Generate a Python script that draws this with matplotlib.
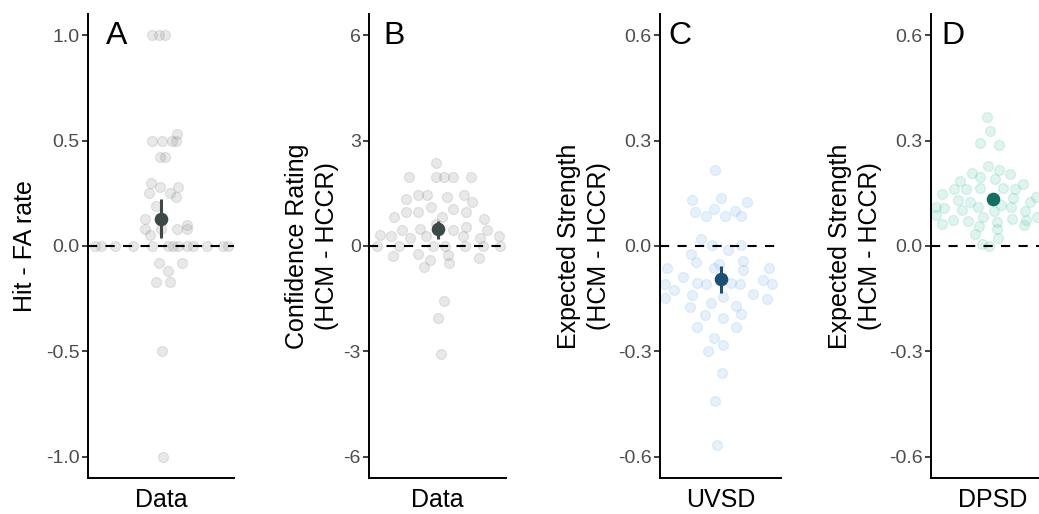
import numpy as np
import matplotlib.pyplot as plt

plt.rcParams['font.family'] = ['Liberation Sans', 'DejaVu Sans']
plt.rcParams['axes.unicode_minus'] = False

# Panel A: hit - false alarm rate difference per participant
a_vals = [1.0, 1.0, 1.0, 0.53, 0.5, 0.5, 0.5, 0.5, 0.42, 0.42,
          0.30, 0.28, 0.28, 0.25, 0.25, 0.23, 0.19, 0.13, 0.10, 0.08,
          0.08, 0.08, 0.08, 0.05,
          0.0, 0.0, 0.0, 0.0, 0.0, 0.0, 0.0, 0.0, 0.0, 0.0, 0.0, 0.0, 0.0,
          -0.08, -0.08, -0.12, -0.17, -0.17, -0.5, -1.0]
a_jit = [-0.07, -0.02, 0.03, 0.13, -0.07, 0.01, 0.09, 0.12, -0.01, 0.03,
         -0.08, -0.01, 0.14, -0.10, 0.07, 0.12, -0.04, -0.13, 0.21, 0.0,
         0.13, -0.13, 0.21, -0.09,
         -0.54, -0.49, -0.38, -0.23, -0.07, 0.06, 0.10, 0.14, 0.21, 0.26,
         0.38, 0.51, 0.55,
         -0.02, 0.17, 0.06, -0.04, 0.07, 0.01, 0.02]
a_mean, a_lo, a_hi = 0.13, 0.04, 0.225

# Panel B: confidence rating difference (HCM - HCCR)
b_vals = [2.35, 1.96, 1.96, 1.96, 1.96, 1.96, 1.35, 1.45, 1.45, 1.39,
          1.45, 1.25, 0.82, 0.97, 0.97, 1.11, 1.04, 0.97, 0.78, 0.83,
          0.63, 0.31, 0.28, 0.45, 0.22, 0.47, 0.28, 0.45, 0.55, 0.28,
          0.24, 0.45, 0.28,
          0.0, 0.0, 0.0, 0.0, 0.0, 0.0, 0.0,
          -0.28, -0.24, -0.41, -0.27, -0.47, -0.59, -0.33,
          -1.56, -2.06, -3.06]
b_jit = [-0.01, -0.25, -0.01, 0.06, 0.14, 0.29, -0.28, -0.17, -0.09, 0.08,
         0.23, 0.30, -0.38, -0.28, -0.17, -0.06, 0.14, 0.25, 0.41, 0.04,
         -0.01, -0.50, -0.41, -0.31, -0.24, -0.15, -0.10, 0.14, 0.25, 0.22,
         0.37, 0.43, 0.54,
         -0.53, -0.34, -0.04, 0.07, 0.24, 0.40, 0.55,
         -0.39, -0.17, -0.07, 0.09, 0.10, -0.12, 0.36,
         0.06, 0.0, 0.03]
b_mean, b_lo, b_hi = 0.47, 0.20, 0.70

# Panel C: expected strength difference under UVSD
c_vals = [0.215, 0.13, 0.137, 0.126, 0.098, 0.085, 0.104, 0.085, 0.10, 0.085,
          0.019, 0.002, -0.012, 0.002, -0.024, -0.045, -0.062, -0.052, -0.064, -0.043,
          -0.068, -0.064, -0.107, -0.088, -0.106, -0.109, -0.105, -0.109, -0.097, -0.107,
          -0.147, -0.126, -0.14, -0.144, -0.137, -0.152, -0.173, -0.163, -0.171, -0.197,
          -0.204, -0.194, -0.23, -0.23, -0.262, -0.283, -0.30, -0.36, -0.44, -0.566]
c_jit = [-0.05, -0.28, 0.0, 0.26, -0.25, -0.14, -0.06, 0.04, 0.14, 0.20,
         -0.19, -0.08, 0.07, 0.20, -0.29, -0.24, -0.53, -0.01, -0.06, 0.22,
         0.22, 0.48, -0.55, -0.37, -0.23, -0.14, 0.10, 0.19, 0.42, 0.51,
         -0.55, -0.46, -0.28, 0.02, 0.32, 0.46, -0.30, -0.09, 0.15, -0.15,
         0.02, 0.20, -0.23, 0.15, -0.06, 0.02, -0.12, 0.01, -0.05, -0.03]
c_mean, c_lo, c_hi = -0.095, -0.134, -0.057

# Panel D: expected strength difference under DPSD
d_vals = [0.367, 0.327, 0.294, 0.286, 0.229, 0.207, 0.197, 0.215, 0.204, 0.19,
          0.185, 0.175, 0.163, 0.163, 0.166, 0.166, 0.163, 0.149, 0.137, 0.13,
          0.125, 0.118, 0.111, 0.125, 0.111, 0.107, 0.102, 0.111, 0.10, 0.10,
          0.139, 0.088, 0.074, 0.071, 0.083, 0.069, 0.076, 0.074, 0.083, 0.064,
          0.057, 0.049, 0.06, 0.033, 0.024, 0.007, 0.0]
d_jit = [-0.06, -0.03, -0.13, 0.06, -0.05, -0.20, -0.13, 0.06, 0.16, 0.02,
         -0.32, 0.29, -0.38, -0.26, -0.13, 0.10, 0.21, -0.49, 0.19, -0.34,
         -0.22, 0.08, 0.17, 0.36, -0.55, -0.47, -0.30, -0.15, 0.01, 0.31,
         0.42, -0.55, -0.39, -0.24, -0.10, 0.04, 0.18, 0.32, 0.43, -0.49,
         -0.14, 0.04, 0.30, -0.17, 0.05, -0.11, -0.04]
d_mean, d_lo, d_hi = 0.133, 0.123, 0.143

W, H = 1039, 514
fig = plt.figure(figsize=(W / 100, H / 100), dpi=100)


def add_panel(x0, x1, letter, letter_x, ylabel, ylabel_x, xlabel,
              vals, jit, mean, lo, hi, pt_color, mean_color, lim, ticks, fmt):
    top, bottom = 14, 478
    ax = fig.add_axes([x0 / W, (H - bottom) / H, (x1 - x0) / W, (bottom - top) / H])
    ax.scatter(1 + np.asarray(jit), vals, s=52, color=pt_color, alpha=0.2,
               edgecolors=pt_color, linewidths=0.9, zorder=2)
    ax.axhline(0, color='black', lw=1.5, ls=(0, (4.4, 4.0)), zorder=3)
    ax.plot([1, 1], [lo, hi], color=mean_color, lw=2.2, zorder=4,
            solid_capstyle='butt')
    ax.plot(1, mean, 'o', ms=9.8, color=mean_color, mec='none', zorder=5)

    ax.set_xlim(0.4, 1.6)
    ax.set_ylim(-lim, lim)
    ax.set_yticks(ticks)
    ax.set_yticklabels([fmt.format(t) for t in ticks])
    ax.set_xticks([1])
    ax.set_xticklabels([xlabel])

    for side in ['top', 'right']:
        ax.spines[side].set_visible(False)
    for side in ['left', 'bottom']:
        ax.spines[side].set_linewidth(1.4)
        ax.spines[side].set_color('black')
    ax.tick_params(axis='y', length=4, width=1.3, color='#333333',
                   labelsize=14, labelcolor='#4d4d4d', pad=2)
    ax.tick_params(axis='x', length=0, labelsize=18, labelcolor='black', pad=7)

    ax.set_ylabel(ylabel, fontsize=18, va='center', ha='center', linespacing=1.35)
    ax.yaxis.set_label_coords((ylabel_x - x0) / (x1 - x0), 0.5)
    fig.text(letter_x / W, 1 - 36 / H, letter, fontsize=23, ha='left', va='center')
    return ax


add_panel(88, 234, 'A', 106, 'Hit - FA rate', 25, 'Data',
          a_vals, a_jit, a_mean, a_lo, a_hi, '#8c8c8c', '#3d4849',
          1.1, [-1.0, -0.5, 0.0, 0.5, 1.0], '{:.1f}')
add_panel(369, 506, 'B', 383, 'Confidence Rating\n(HCM - HCCR)', 312, 'Data',
          b_vals, b_jit, b_mean, b_lo, b_hi, '#8c8c8c', '#3d4849',
          6.6, [-6, -3, 0, 3, 6], '{:d}')
add_panel(660, 781, 'C', 668, 'Expected Strength\n(HCM - HCCR)', 584, 'UVSD',
          c_vals, c_jit, c_mean, c_lo, c_hi, '#7fb8e6', '#1c4f74',
          0.66, [-0.6, -0.3, 0.0, 0.3, 0.6], '{:.1f}')
add_panel(931, 1055, 'D', 941, 'Expected Strength\n(HCM - HCCR)', 855, 'DPSD',
          d_vals, d_jit, d_mean, d_lo, d_hi, '#5cc9aa', '#13705f',
          0.66, [-0.6, -0.3, 0.0, 0.3, 0.6], '{:.1f}')

fig.savefig('out.png', dpi=100)
